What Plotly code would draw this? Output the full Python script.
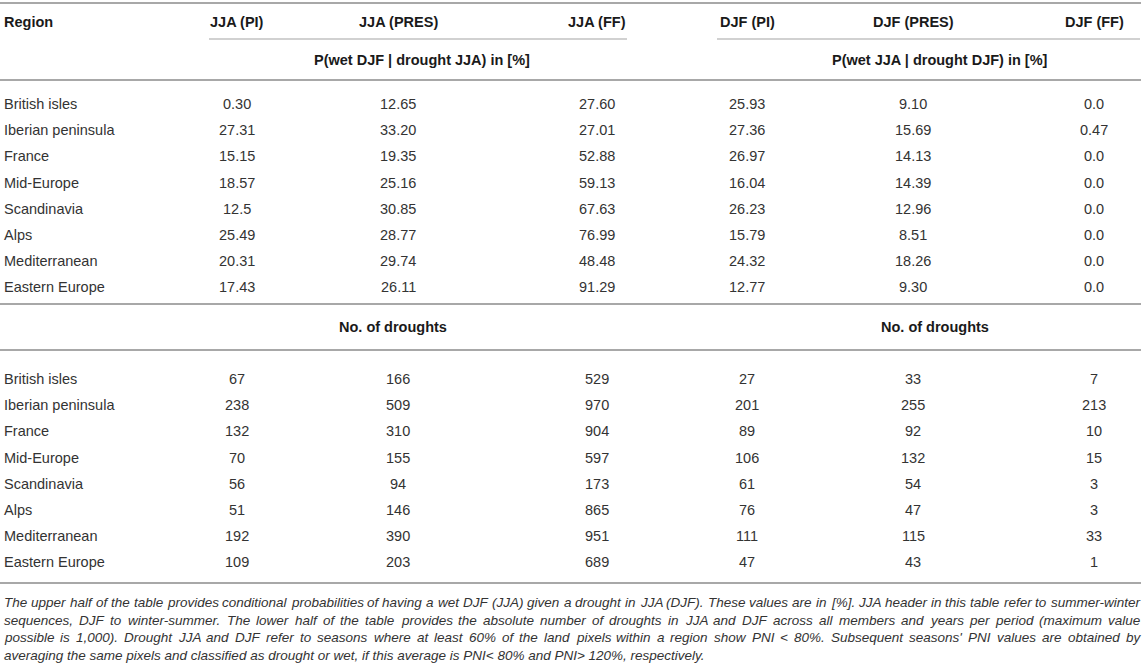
import plotly.graph_objects as go

regions = ["British isles", "Iberian peninsula", "France", "Mid-Europe",
           "Scandinavia", "Alps", "Mediterranean", "Eastern Europe"]

col_headers = ["JJA (PI)", "JJA (PRES)", "JJA (FF)", "DJF (PI)", "DJF (PRES)", "DJF (FF)"]
group_titles = ["P(wet DJF | drought JJA) in [%]", "P(wet JJA | drought DJF) in [%]"]
lower_title = "No. of droughts"

# conditional probabilities in [%] (kept as text, the table mixes decimals)
p_jja_pi = ["0.30", "27.31", "15.15", "18.57", "12.5", "25.49", "20.31", "17.43"]
p_jja_pres = ["12.65", "33.20", "19.35", "25.16", "30.85", "28.77", "29.74", "26.11"]
p_jja_ff = ["27.60", "27.01", "52.88", "59.13", "67.63", "76.99", "48.48", "91.29"]
p_djf_pi = ["25.93", "27.36", "26.97", "16.04", "26.23", "15.79", "24.32", "12.77"]
p_djf_pres = ["9.10", "15.69", "14.13", "14.39", "12.96", "8.51", "18.26", "9.30"]
p_djf_ff = ["0.0", "0.47", "0.0", "0.0", "0.0", "0.0", "0.0", "0.0"]

# number of droughts
n_jja_pi = [67, 238, 132, 70, 56, 51, 192, 109]
n_jja_pres = [166, 509, 310, 155, 94, 146, 390, 203]
n_jja_ff = [529, 970, 904, 597, 173, 865, 951, 689]
n_djf_pi = [27, 201, 89, 106, 61, 76, 111, 47]
n_djf_pres = [33, 255, 92, 132, 54, 47, 115, 43]
n_djf_ff = [7, 213, 10, 15, 3, 3, 33, 1]

footnote = [
    "The upper half of the table provides conditional probabilities of having a wet DJF (JJA) given a drought in JJA (DJF). These values are in [%]. JJA header in this table refer to summer-winter",
    "sequences, DJF to winter-summer. The lower half of the table provides the absolute number of droughts in JJA and DJF across all members and years per period (maximum value",
    "possible is 1,000). Drought JJA and DJF refer to seasons where at least 60% of the land pixels within a region show PNI < 80%. Subsequent seasons' PNI values are obtained by",
    "averaging the same pixels and classified as drought or wet, if this average is PNI< 80% and PNI> 120%, respectively.",
]

upper = [p_jja_pi, p_jja_pres, p_jja_ff, p_djf_pi, p_djf_pres, p_djf_ff]
lower = [n_jja_pi, n_jja_pres, n_jja_ff, n_djf_pi, n_djf_pres, n_djf_ff]

W, H = 1144, 671
FONT = "Liberation Sans, Arial, Helvetica, sans-serif"
BODY = "#333333"
HEAD = "#1a1a1a"
RULE = "#a8a8a8"

col_x = [237, 398, 597, 747, 913, 1094]
group_span = [(209, 627), (717, 1140)]
group_x = [422, 940]
lower_x = [393, 935]
row_gap = 26.2
upper_y0 = 104
lower_y0 = 379

# Arial / Liberation Sans advance widths (1/1000 em), used to justify the note
aw = {" ": 278, "%": 889, "'": 191, "(": 333, ")": 333, ",": 278, "-": 333, ".": 278,
      "<": 584, ">": 584, "[": 278, "]": 278, "|": 260,
      "A": 667, "D": 722, "F": 611, "I": 278, "J": 500, "N": 722, "P": 667, "S": 667, "T": 611,
      "a": 556, "b": 556, "c": 500, "d": 556, "e": 556, "f": 278, "g": 556, "h": 556, "i": 222,
      "j": 222, "k": 500, "l": 222, "m": 833, "n": 556, "o": 556, "p": 556, "q": 556, "r": 333,
      "s": 500, "t": 278, "u": 556, "v": 500, "w": 722, "x": 500, "y": 500, "z": 500}


def em_width(s):
    return sum(aw.get(ch, 556) for ch in s) / 1000.0


def esc(s):
    return s.replace("<", "&lt;").replace(">", "&gt;")


fig = go.Figure()
anns = []
shapes = []


def txt(x, y, s, size=14.5, color=BODY, anchor="center", bold=False, italic=False):
    if bold:
        s = "<b>" + s + "</b>"
    if italic:
        s = "<i>" + s + "</i>"
    anns.append(dict(x=x, y=y, xref="x", yref="y", text=s, showarrow=False,
                     xanchor=anchor, yanchor="middle", borderpad=0,
                     font=dict(family=FONT, size=size, color=color)))


def hline(x0, x1, y, width=2, color=RULE):
    shapes.append(dict(type="line", xref="x", yref="y", x0=x0, x1=x1, y0=y, y1=y,
                       line=dict(color=color, width=width)))


# rules
hline(0, W - 3, 3)
for a, b in group_span:
    hline(a, b, 39, width=1.5, color="#c2c2c2")
hline(0, W - 3, 80)
hline(0, W - 3, 304)
hline(0, W - 3, 350)
hline(0, W - 3, 583)

# header
txt(3, 22, "Region", anchor="left", bold=True, color=HEAD)
for x, h in zip(col_x, col_headers):
    txt(x, 22, h, bold=True, color=HEAD)
for x, g in zip(group_x, group_titles):
    txt(x, 60, g, bold=True, color=HEAD)
for x in lower_x:
    txt(x, 327, lower_title, bold=True, color=HEAD)

# body
for i, r in enumerate(regions):
    yu = upper_y0 + i * row_gap
    yl = lower_y0 + i * row_gap
    txt(3, yu, r, anchor="left")
    txt(3, yl, r, anchor="left")
    for j in range(6):
        txt(col_x[j], yu, upper[j][i])
        txt(col_x[j], yl, str(lower[j][i]))

# footnote, justified like the source
left, right = 3, 1139
fs = min(13.5, (right - left - 6) / em_width(footnote[0]))
note_y = [602, 620, 637.5, 655]
for k, line in enumerate(footnote):
    if k == len(footnote) - 1:
        txt(left, note_y[k], esc(line), size=fs, anchor="left", italic=True)
        continue
    words = line.split(" ")
    total = sum(em_width(w) for w in words) * fs
    gap = (right - left - total) / (len(words) - 1)
    x = left
    for w in words:
        txt(x, note_y[k], esc(w), size=fs, anchor="left", italic=True)
        x += em_width(w) * fs + gap

fig.update_layout(
    width=W, height=H,
    margin=dict(l=0, r=0, t=0, b=0),
    paper_bgcolor="white", plot_bgcolor="white",
    xaxis=dict(range=[0, W], visible=False, fixedrange=True),
    yaxis=dict(range=[H, 0], visible=False, fixedrange=True),
    annotations=anns, shapes=shapes,
    showlegend=False,
)

fig.write_html("out.html", config={"displayModeBar": False},
               post_script="document.body.style.margin='0px';document.body.style.overflow='hidden';")
